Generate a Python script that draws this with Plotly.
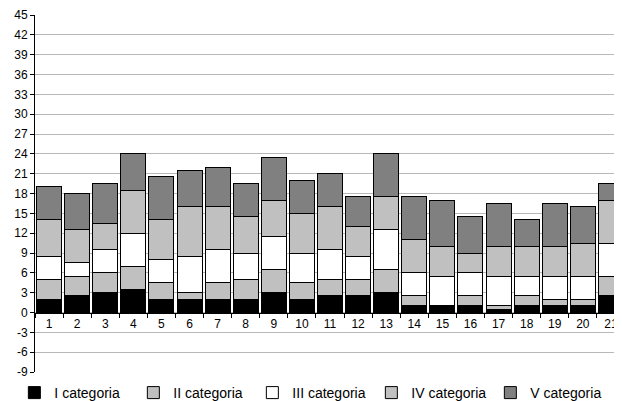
import plotly.graph_objects as go

categories = [str(i) for i in range(1, 22)]
series_names = ["I categoria", "II categoria", "III categoria", "IV categoria", "V categoria"]
cat_I = [2, 2.5, 3, 3.5, 2, 2, 2, 2, 3, 2, 2.5, 2.5, 3, 1, 1, 1, 0.5, 1, 1, 1, 2.5]
cat_II = [3, 3, 3, 3.5, 2.5, 1, 2.5, 3, 3.5, 2.5, 2.5, 2.5, 3.5, 1.5, 0, 1.5, 0.5, 1.5, 1, 1, 3]
cat_III = [3.5, 2, 3.5, 5, 3.5, 5.5, 5, 4, 5, 4.5, 4.5, 3.5, 6, 3.5, 4.5, 3.5, 4.5, 3, 3.5, 3.5, 5]
cat_IV = [5.5, 5, 4, 6.5, 6, 7.5, 6.5, 5.5, 5.5, 6, 6.5, 4.5, 5, 5, 4.5, 3, 4.5, 4.5, 4.5, 5, 6.5]
cat_V = [5, 5.5, 6, 5.5, 6.5, 5.5, 6, 5, 6.5, 5, 5, 4.5, 6.5, 6.5, 7, 5.5, 6.5, 4, 6.5, 5.5, 2.5]
y_ticks = list(range(-9, 46, 3))

colors = ["#000000", "#c0c0c0", "#ffffff", "#c0c0c0", "#808080"]
values = [cat_I, cat_II, cat_III, cat_IV, cat_V]

fig = go.Figure()
for name, vals, col in zip(series_names, values, colors):
    fig.add_trace(go.Bar(
        x=categories, y=vals, name=name,
        marker=dict(color=col, line=dict(color="#000000", width=1)),
    ))

# plot area: 7px top margin, 0px bottom margin; y-axis domain puts -9 at 37px above the bottom
dom0 = 37 / 394
x_pos = dom0 + (1 - dom0) * (9 / 54)

fig.update_layout(
    barmode="stack",
    bargap=0.11,
    width=620, height=401,
    margin=dict(l=27, r=3, t=7, b=0),
    paper_bgcolor="white", plot_bgcolor="white",
    font=dict(family="Liberation Sans, Arial, sans-serif", size=12, color="#000000"),
    showlegend=True,
    legend=dict(orientation="h", x=-0.035, xanchor="left", y=-0.001, yanchor="bottom",
                font=dict(size=14), traceorder="normal", itemclick=False,
                entrywidth=74, bgcolor="rgba(0,0,0,0)"),
    xaxis=dict(
        type="category", anchor="free", position=x_pos, automargin=False,
        showline=True, linecolor="#000000", linewidth=1,
        ticks="outside", tickson="boundaries", ticklen=4, tickcolor="#000000",
        showgrid=False, tickfont=dict(size=12),
    ),
    yaxis=dict(
        domain=[dom0, 1], automargin=False,
        range=[-9, 45], tickvals=y_ticks, ticktext=[str(v) for v in y_ticks],
        showline=True, linecolor="#000000", linewidth=1,
        ticks="outside", ticklen=4, tickcolor="#000000",
        showgrid=True, gridcolor="#b8b8b8", gridwidth=1,
        zeroline=False, tickfont=dict(size=12),
    ),
)

fig.write_html("out.html")
